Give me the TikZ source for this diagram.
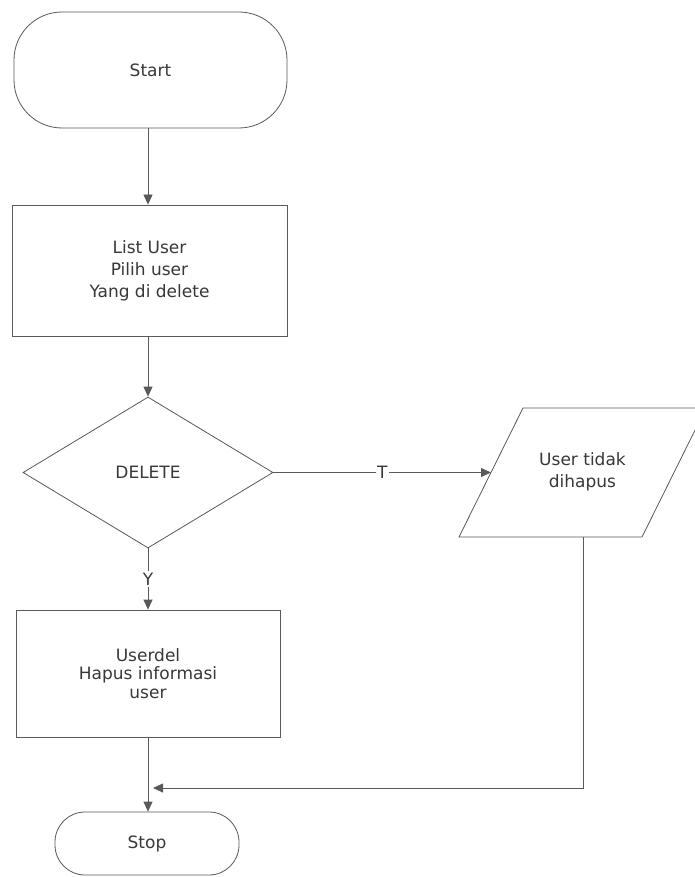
\documentclass[tikz,border=0pt]{standalone}
\usepackage{fontspec}
\setmainfont{DejaVu Sans}
\usetikzlibrary{shapes.geometric,arrows.meta}
\begin{document}
\begin{tikzpicture}[x=1pt,y=-1pt,
  every node/.style={font=\fontsize{17}{22}\selectfont, text=black!78, align=center, inner sep=0pt},
  shapeline/.style={draw=black!65, line width=0.8pt},
  term/.style={shapeline, rounded corners=#1},
  procbox/.style={shapeline, rectangle},
  decision/.style={shapeline, diamond, aspect=1.656},
  conn/.style={draw=black!65, line width=0.8pt, -{Triangle[length=10pt,width=9pt]}},
  lbl/.style={fill=white, inner sep=1.5pt}
]
\useasboundingbox (0,0) rectangle (695,877);
\fill[white] (0,0) rectangle (695,877);

% nodes
\node[term=48pt, minimum width=273pt, minimum height=116pt] (start) at (150.5,70) {Start};
\node[procbox, minimum width=275pt, minimum height=131pt] (list) at (149.5,270.5)
  {List User\\Pilih user\\Yang di delete};
\node[decision, minimum width=250pt, minimum height=151pt] (dec) at (148,472.5) {DELETE};
\node[procbox, minimum width=264pt, minimum height=127pt, font=\fontsize{17}{18.5}\selectfont] (del) at (148,673.5)
  {Userdel\\Hapus informasi\\user};
\node[term=30pt, minimum width=184pt, minimum height=63pt] (stop) at (147,843.5) {Stop};

% parallelogram (output)
\draw[shapeline] (459,537) -- (523,408) -- (706,408) -- (642,537) -- cycle;
\node (tidak) at (582.5,472) {User tidak\\dihapus};
\coordinate (pleft) at (491,472.5);
\coordinate (pbot) at (583,537);
\coordinate (join) at (153,788);

% connectors
\draw[conn] (start.south -| 148,0) -- (list.north -| 148,0);
\draw[conn] (list.south -| dec.north) -- (dec.north);
\draw[conn] (dec.east) -- node[lbl, pos=0.5] {T} (pleft);
\draw[conn] (dec.south) -- node[lbl, pos=0.5] {Y} (del.north);
\draw[conn] (del.south -| 148,0) -- (stop.north -| 148,0);
\draw[conn] (pbot) |- (join);
\end{tikzpicture}
\end{document}
